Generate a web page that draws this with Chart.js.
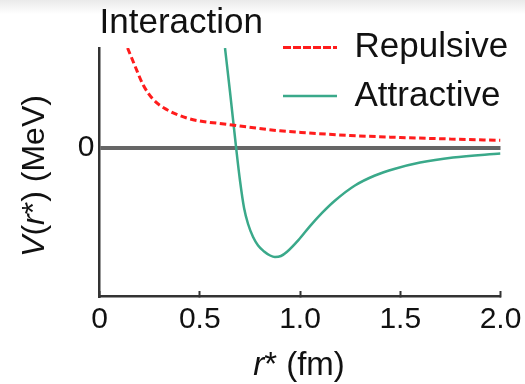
<!DOCTYPE html>
<html>
<head>
<meta charset="utf-8">
<title>Interaction</title>
<script src="https://cdn.jsdelivr.net/npm/chart.js@4.4.0/dist/chart.umd.min.js"></script>
<style>
  html, body { margin: 0; padding: 0; }
  body { width: 525px; height: 384px; background: linear-gradient(#eaeaea 0px, #ffffff 14px); }
  canvas { display: block; }
</style>
</head>
<body>
<canvas id="potChart" width="525" height="384"></canvas>
<script>
// r* (fm) / V(r*) (arbitrary units, 0 = no interaction)
const repulsiveR = [0.14, 0.177, 0.218, 0.268, 0.335, 0.435, 0.50, 0.60, 0.70, 0.90, 1.033, 1.25, 1.5, 1.75, 2.0];
const repulsiveV = [1.00, 0.82, 0.63, 0.485, 0.385, 0.30, 0.27, 0.245, 0.22, 0.172, 0.152, 0.125, 0.105, 0.09, 0.077];

const attractiveR = [0.626, 0.651, 0.681, 0.701, 0.721, 0.741, 0.766, 0.791, 0.821, 0.851, 0.875, 0.905, 0.934,
    0.992, 1.05, 1.11, 1.175, 1.274, 1.374, 1.474, 1.599, 1.763, 2.0];
const attractiveV = [1.00, 0.56, 0.01, -0.33, -0.60, -0.76, -0.89, -0.975, -1.035, -1.075, -1.09, -1.08, -1.04,
    -0.921, -0.781, -0.649, -0.525, -0.375, -0.275, -0.207, -0.145, -0.095, -0.055];

const seriesLabels = ['Repulsive', 'Attractive'];
const xTickValues = [0, 0.5, 1.0, 1.5, 2.0];
const xTickLabels = ['0', '0.5', '1.0', '1.5', '2.0'];
const yTickValues = [0];
const yTickLabels = ['0'];

const FONT = '"Liberation Sans", Arial, Helvetica, sans-serif';

function toPoints(xs, ys) {
    return xs.map((x, i) => ({ x: x, y: ys[i] }));
}

// legend sits inside the plot, top right
const legendPlace = {
    id: 'legendPlace',
    afterLayout(chart) {
        const lg = chart.legend;
        lg.left = 269.5;
        lg.top = 16.5;
        lg.right = 525;
        lg.bottom = 296;
    }
};

// axis titles with italic symbols
function drawRich(ctx, parts, x, y, size) {
    let total = 0;
    parts.forEach(p => {
        ctx.font = (p[1] ? 'italic ' : '') + size + 'px ' + FONT;
        total += ctx.measureText(p[0]).width;
    });
    let cx = x - total / 2;
    parts.forEach(p => {
        ctx.font = (p[1] ? 'italic ' : '') + size + 'px ' + FONT;
        ctx.fillText(p[0], cx, y);
        cx += ctx.measureText(p[0]).width;
    });
}

const axisTitles = {
    id: 'axisTitles',
    afterDraw(chart) {
        const ctx = chart.ctx;
        const area = chart.chartArea;
        ctx.save();
        ctx.fillStyle = '#111';
        ctx.textAlign = 'left';
        ctx.textBaseline = 'alphabetic';
        drawRich(ctx, [['r', true], ['* (fm)', false]], (area.left + area.right) / 2 - 1, 375, 33);
        ctx.translate(43.5, (area.top + area.bottom) / 2 + 4);
        ctx.rotate(-Math.PI / 2);
        drawRich(ctx, [['V', true], ['(', false], ['r', true], ['*) (MeV)', false]], 0, 0, 32);
        ctx.restore();
    }
};

const ctx = document.getElementById('potChart').getContext('2d');

const data = {
    datasets: [{
        label: seriesLabels[0],
        data: toPoints(repulsiveR, repulsiveV),
        showLine: true,
        borderColor: '#ff1c1c',
        backgroundColor: 'rgba(0,0,0,0)',
        borderWidth: 3,
        borderDash: [6.5, 3.5],
        pointRadius: 0,
        cubicInterpolationMode: 'monotone'
    }, {
        label: seriesLabels[1],
        data: toPoints(attractiveR, attractiveV),
        showLine: true,
        borderColor: '#3aa98a',
        backgroundColor: 'rgba(0,0,0,0)',
        borderWidth: 2.5,
        pointRadius: 0,
        cubicInterpolationMode: 'monotone'
    }]
};

const config = {
    type: 'scatter',
    data: data,
    options: {
        responsive: false,
        animation: false,
        layout: { padding: { top: 2.8, left: 0, right: 24.5, bottom: 0 } },
        plugins: {
            title: {
                display: true,
                text: 'Interaction',
                align: 'start',
                fullSize: false,
                color: '#111',
                font: { family: FONT, size: 35, weight: 'normal' },
                padding: { top: 0, bottom: 3.2 }
            },
            legend: {
                position: 'chartArea',
                align: 'start',
                labels: {
                    boxWidth: 54,
                    boxHeight: 0,
                    padding: 13.5,
                    color: '#111',
                    textAlign: 'left',
                    font: { family: FONT, size: 35 }
                }
            },
            tooltip: { enabled: false }
        },
        scales: {
            x: {
                type: 'linear',
                min: 0,
                max: 2,
                afterBuildTicks: s => { s.ticks = xTickValues.map(v => ({ value: v })); },
                afterFit: s => { s.height = 88; s.paddingRight = 0; s.paddingLeft = 0; },
                grid: { drawOnChartArea: false, drawTicks: true, tickLength: -5, tickColor: '#333', tickWidth: 2 },
                border: { color: '#333', width: 2.5 },
                ticks: {
                    color: '#111',
                    padding: 11,
                    maxRotation: 0,
                    autoSkip: false,
                    font: { family: FONT, size: 30 },
                    callback: (v, i) => xTickLabels[i]
                }
            },
            y: {
                type: 'linear',
                min: -1.48,
                max: 1.0,
                afterBuildTicks: s => { s.ticks = yTickValues.map(v => ({ value: v })); },
                afterFit: s => { s.width = 99.5; },
                grid: { drawTicks: false, color: '#666', lineWidth: 4 },
                border: { color: '#333', width: 2.5 },
                ticks: {
                    color: '#111',
                    padding: 5,
                    font: { family: FONT, size: 30 },
                    callback: (v, i) => yTickLabels[i]
                }
            }
        }
    },
    plugins: [legendPlace, axisTitles]
};

const potChart = new Chart(ctx, config);
</script>
</body>
</html>
